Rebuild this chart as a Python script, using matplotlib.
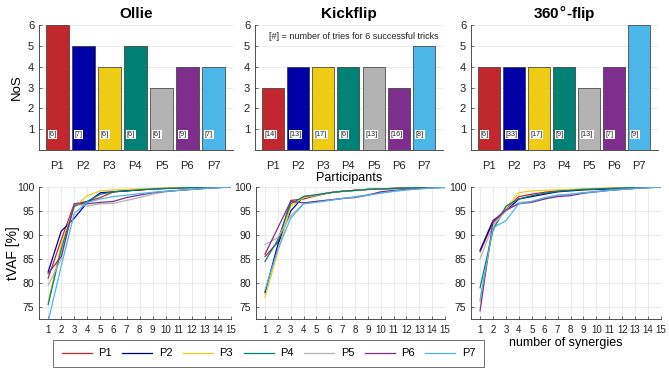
import matplotlib
matplotlib.use("Agg")
import matplotlib.pyplot as plt
from matplotlib.lines import Line2D

plt.rcParams['font.family'] = ['Liberation Sans', 'DejaVu Sans']

participants = ["P1", "P2", "P3", "P4", "P5", "P6", "P7"]
colors = ["#C1272D", "#0000A7", "#EECC16", "#008176", "#B3B3B3", "#7E2F8E", "#4CB6E8"]
tricks = ["Ollie", "Kickflip", "360$\\degree$-flip"]

nos_ollie = [6, 5, 4, 5, 3, 4, 4]
nos_kickflip = [3, 4, 4, 4, 4, 3, 5]
nos_360 = [4, 4, 4, 4, 3, 4, 6]

tries_ollie = [6, 7, 6, 6, 6, 9, 7]
tries_kickflip = [14, 13, 17, 6, 13, 16, 8]
tries_360 = [6, 33, 17, 9, 13, 7, 9]

n_syn = list(range(1, 16))

tvaf_ollie = [
    [81.0, 89.0, 96.5, 97.0, 97.8, 99.0, 99.2, 99.4, 99.6, 99.7, 99.8, 99.9, 99.95, 100, 100],
    [82.3, 90.8, 93.5, 96.8, 98.8, 99.0, 99.2, 99.4, 99.6, 99.7, 99.8, 99.9, 99.95, 100, 100],
    [76.0, 88.0, 95.8, 98.2, 99.2, 99.4, 99.5, 99.6, 99.7, 99.8, 99.85, 99.9, 99.95, 100, 100],
    [75.5, 87.0, 96.0, 97.0, 98.5, 99.0, 99.2, 99.4, 99.6, 99.7, 99.8, 99.9, 99.95, 100, 100],
    [79.5, 85.0, 96.5, 96.0, 96.5, 96.6, 97.2, 97.8, 98.5, 99.0, 99.3, 99.5, 99.7, 99.85, 100],
    [82.0, 85.5, 96.5, 96.5, 96.8, 97.0, 97.8, 98.3, 98.8, 99.1, 99.3, 99.5, 99.7, 99.85, 100],
    [72.0, 83.5, 94.5, 96.8, 97.5, 98.0, 98.3, 98.6, 98.9, 99.1, 99.3, 99.5, 99.7, 99.85, 100],
]
tvaf_kickflip = [
    [85.5, 88.5, 97.2, 97.5, 98.2, 98.8, 99.1, 99.3, 99.5, 99.6, 99.7, 99.8, 99.85, 99.9, 100],
    [78.0, 88.0, 95.0, 98.0, 98.3, 98.8, 99.1, 99.3, 99.5, 99.6, 99.7, 99.8, 99.85, 99.9, 100],
    [77.0, 86.5, 96.0, 97.8, 98.3, 98.8, 99.1, 99.3, 99.5, 99.6, 99.7, 99.8, 99.85, 99.9, 100],
    [84.5, 89.0, 96.5, 98.0, 98.4, 98.8, 99.1, 99.3, 99.5, 99.6, 99.7, 99.8, 99.85, 99.9, 100],
    [88.0, 89.5, 94.0, 96.5, 97.0, 97.3, 97.6, 98.0, 98.4, 98.8, 99.1, 99.4, 99.6, 99.8, 99.9],
    [86.0, 91.5, 97.0, 96.7, 97.0, 97.3, 97.6, 97.8, 98.3, 99.0, 99.3, 99.5, 99.7, 99.85, 99.9],
    [78.5, 87.0, 93.5, 96.5, 96.8, 97.2, 97.6, 97.9, 98.3, 98.7, 99.1, 99.4, 99.6, 99.8, 99.9],
]
tvaf_360 = [
    [86.5, 92.5, 95.5, 98.0, 98.5, 98.9, 99.2, 99.4, 99.5, 99.6, 99.7, 99.8, 99.9, 99.95, 100],
    [86.8, 93.0, 95.0, 97.5, 98.0, 98.5, 99.0, 99.2, 99.4, 99.5, 99.6, 99.75, 99.85, 99.95, 100],
    [76.0, 91.5, 95.5, 98.8, 99.2, 99.3, 99.4, 99.5, 99.6, 99.7, 99.8, 99.85, 99.9, 99.95, 100],
    [79.0, 91.0, 96.0, 97.5, 98.2, 98.7, 99.1, 99.3, 99.5, 99.6, 99.7, 99.8, 99.9, 99.95, 100],
    [85.0, 92.0, 95.0, 96.8, 97.0, 97.6, 98.2, 98.5, 98.8, 99.1, 99.3, 99.5, 99.7, 99.85, 100],
    [74.2, 92.8, 95.2, 96.5, 96.8, 97.5, 98.0, 98.2, 98.7, 99.0, 99.3, 99.5, 99.7, 99.85, 100],
    [76.5, 91.5, 93.0, 96.5, 97.0, 97.8, 98.3, 98.5, 98.8, 99.0, 99.3, 99.5, 99.7, 99.85, 100],
]

nos_all = [nos_ollie, nos_kickflip, nos_360]
tries_all = [tries_ollie, tries_kickflip, tries_360]
tvaf_all = [tvaf_ollie, tvaf_kickflip, tvaf_360]

W, H = 669, 369
fig = plt.figure(figsize=(W / 100, H / 100), dpi=100)

def px_axes(x0, x1, ytop, ybot):
    return fig.add_axes([x0 / W, 1 - ybot / H, (x1 - x0) / W, (ybot - ytop) / H])

top_x = [(39, 233), (255, 443), (471, 658)]
bot_x = [(39, 231), (256, 445), (471, 661)]
gridc = "#e6e6e6"
axc = "#333333"

def style(ax):
    for s in ["top", "right"]:
        ax.spines[s].set_visible(False)
    for s in ["left", "bottom"]:
        ax.spines[s].set_color(axc)
        ax.spines[s].set_linewidth(0.6)
    ax.tick_params(direction="in", length=2.5, width=0.5, colors=axc, labelcolor="#222222")
    ax.set_axisbelow(True)

xpos = list(range(1, 8))
for i in range(3):
    ax = px_axes(top_x[i][0], top_x[i][1], 25, 150)
    style(ax)
    ax.bar(xpos, nos_all[i], width=0.88, color=colors, edgecolor="#333333", linewidth=0.5, zorder=2)
    for x, t in zip(xpos, tries_all[i]):
        ax.text(x - 0.33, 0.75, f"[{t}]", fontsize=5.2, ha="left", va="center", color="#222222",
                bbox=dict(boxstyle="square,pad=0.1", facecolor="white", edgecolor="none"), zorder=3)
    ax.set_ylim(0, 6)
    ax.set_yticks([1, 2, 3, 4, 5, 6])
    ax.set_xlim(0.3, 7.75)
    ax.set_xticks(xpos)
    ax.set_xticklabels(participants)
    ax.tick_params(axis="x", labelsize=8, length=0, pad=8)
    ax.tick_params(axis="y", labelsize=8)
    ax.yaxis.grid(True, color=gridc, linewidth=0.6)
    ax.set_title(tricks[i], fontsize=11, fontweight="bold", pad=5)
    if i == 0:
        ax.set_ylabel("NoS", fontsize=9.5)
        ax.yaxis.set_label_coords(-(39 - 23) / 194, 0.5)
    if i == 1:
        ax.set_xlabel("Participants", fontsize=9, labelpad=1)
        ax.text(4.2, 5.45, "[#] = number of tries for 6 successful tricks", fontsize=6.5,
                ha="center", va="center", color="#222222")

for i in range(3):
    ax = px_axes(bot_x[i][0], bot_x[i][1], 187, 319)
    style(ax)
    for p in range(7):
        ax.plot(n_syn, tvaf_all[i][p], color=colors[p], linewidth=0.9, label=participants[p], zorder=2)
    ax.set_xlim(0.3, 15)
    ax.set_ylim(72.5, 100)
    ax.set_xticks(n_syn)
    ax.set_yticks([75, 80, 85, 90, 95, 100])
    ax.tick_params(axis="x", labelsize=7, pad=4)
    ax.tick_params(axis="y", labelsize=7.5)
    ax.grid(True, color=gridc, linewidth=0.6)
    if i == 0:
        ax.set_ylabel("tVAF [%]", fontsize=10)
        ax.yaxis.set_label_coords(-(39 - 20) / 192, 0.5)
    if i == 2:
        ax.set_xlabel("number of synergies", fontsize=9, labelpad=2)

handles = [Line2D([0], [0], color=c, linewidth=0.9) for c in colors]
leg = fig.legend(handles, participants, loc="center", ncol=7,
                 bbox_to_anchor=((55 + 482) / 2 / W, 1 - 353.5 / H),
                 fontsize=8, frameon=True, fancybox=False, edgecolor="#333333",
                 handlelength=2.7, handletextpad=0.6, columnspacing=0.93,
                 borderpad=0.8)
leg.get_frame().set_linewidth(0.6)

fig.savefig("out.png", dpi=100)
